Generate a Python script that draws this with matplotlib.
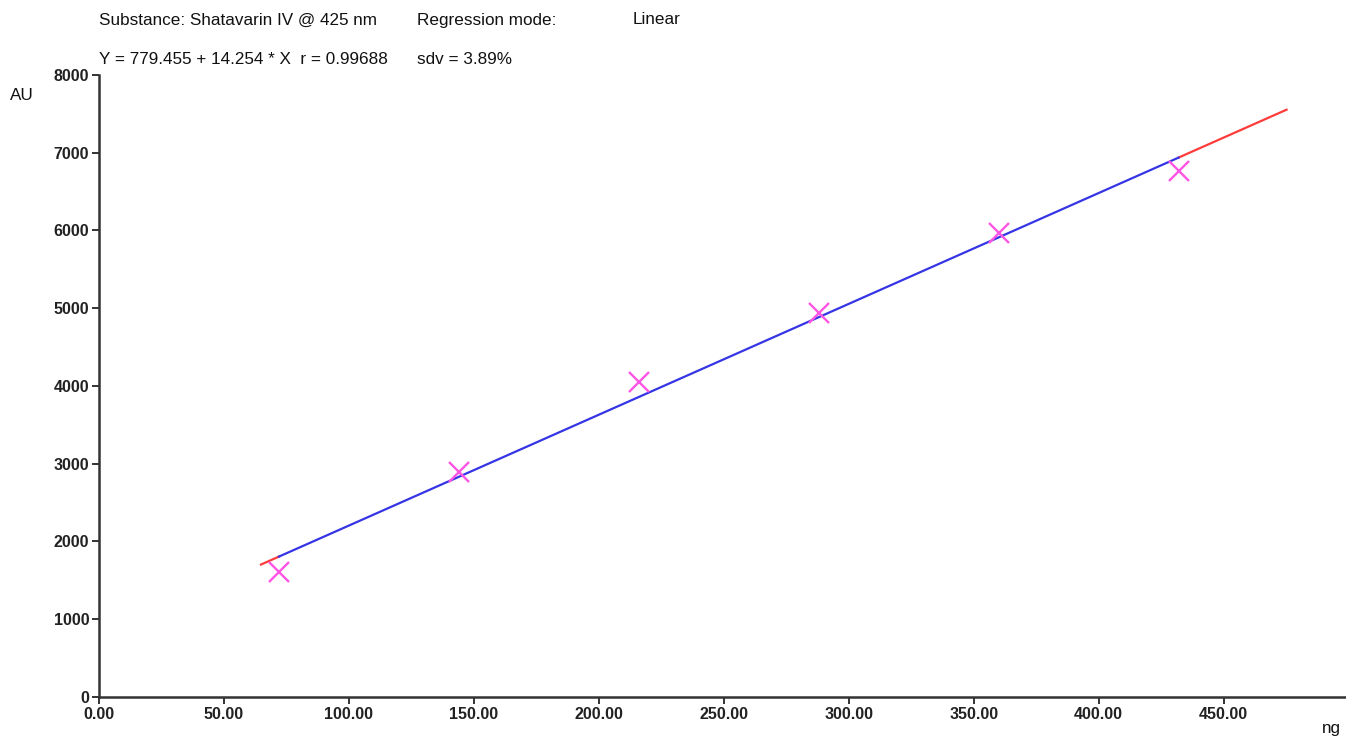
import numpy as np
import matplotlib.pyplot as plt

plt.rcParams['font.family'] = ['Liberation Sans', 'DejaVu Sans']

# Calibration standards (amount in ng) and measured peak area (AU)
amount_ng = [72, 144, 216, 288, 360, 432]
area_au = [1610, 2890, 4050, 4940, 5970, 6760]

# Regression reported by the scanner software
intercept = 779.455
slope = 14.254
r_value = 0.99688
sdv_pct = 3.89

x_ticks = [0, 50, 100, 150, 200, 250, 300, 350, 400, 450]
y_ticks = [0, 1000, 2000, 3000, 4000, 5000, 6000, 7000, 8000]

fig = plt.figure(figsize=(13.46, 7.37), dpi=100)
ax = fig.add_axes([0.0736, 0.0543, 0.9264, 0.844])

# Fitted line: red outside the calibrated range, blue inside it
x_lo, x_hi = min(amount_ng), max(amount_ng)
fit = lambda x: intercept + slope * np.asarray(x)
for seg in ([x_lo * 0.9, x_lo], [x_hi, x_hi * 1.1]):
    ax.plot(seg, fit(seg), color='#ff3b3b', lw=1.6, zorder=2)
ax.plot([x_lo, x_hi], fit([x_lo, x_hi]), color='#3535e6', lw=1.6, zorder=3)

ax.plot(amount_ng, area_au, linestyle='none', marker='x', markersize=14,
        markeredgewidth=1.7, color='#ff55e4', zorder=4)

ax.set_xlim(0, 499)
ax.set_ylim(0, 8000)
ax.set_xticks(x_ticks)
ax.set_xticklabels([f"{v:.2f}" for v in x_ticks])
ax.set_yticks(y_ticks)
ax.set_yticklabels([str(v) for v in y_ticks])

for side in ('top', 'right'):
    ax.spines[side].set_visible(False)
for side in ('left', 'bottom'):
    ax.spines[side].set_linewidth(1.8)
    ax.spines[side].set_color('#333333')
ax.tick_params(direction='out', length=5, width=1.4, color='#333333',
               labelsize=11.5, labelcolor='#222222', pad=2)
for lab in ax.get_xticklabels() + ax.get_yticklabels():
    lab.set_fontweight('bold')

# Header text and axis unit labels
hdr = dict(fontsize=12.3, color='#111111', va='center', ha='left')
fig.text(99 / 1346, 1 - 20 / 737, 'Substance: Shatavarin IV @ 425 nm', **hdr)
fig.text(417 / 1346, 1 - 20 / 737, 'Regression mode:', **hdr)
fig.text(633 / 1346, 1 - 20 / 737, 'Linear', **hdr)
fig.text(99 / 1346, 1 - 59 / 737,
         f'Y = {intercept:.3f} + {slope:.3f} * X  r = {r_value:.5f}', **hdr)
fig.text(417 / 1346, 1 - 59 / 737, f'sdv = {sdv_pct:.2f}%', **hdr)
fig.text(10 / 1346, 1 - 95 / 737, 'AU', **hdr)
fig.text(1322 / 1346, 1 - 728 / 737, 'ng', **hdr)

fig.savefig('out.png', dpi=100)
